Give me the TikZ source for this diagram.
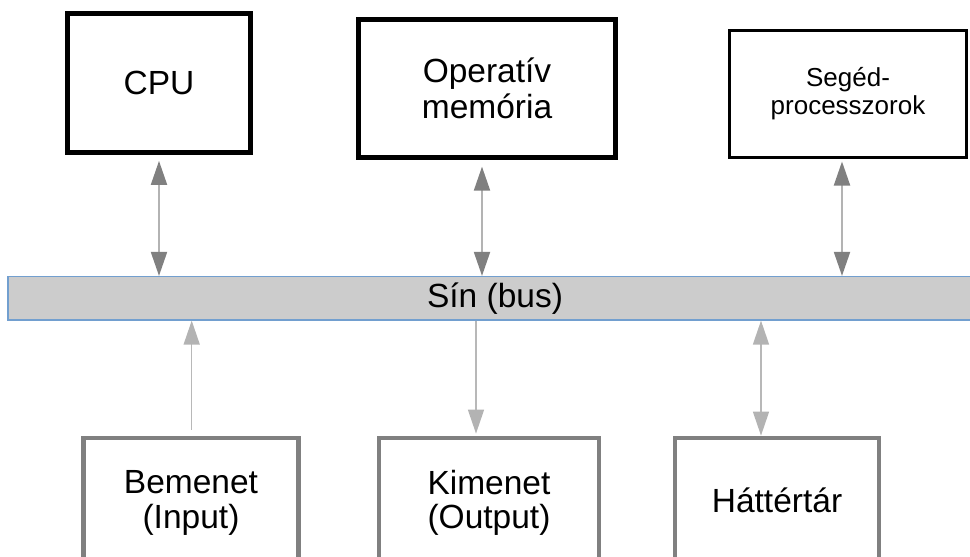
\documentclass[tikz,border=0pt]{standalone}
\usepackage{fontspec}
\setmainfont{Liberation Sans}
\usetikzlibrary{arrows.meta}
\definecolor{headgray}{HTML}{808080}
\definecolor{linegray}{HTML}{B3B3B3}
\definecolor{lightgray2}{HTML}{B8B8B8}
\definecolor{busfill}{HTML}{CCCCCC}
\definecolor{busline}{HTML}{729FCF}
\tikzset{
  topbox/.style={draw=black, line width=4.8pt, rectangle, inner sep=0pt, align=center,
    font=\fontsize{33.5}{36.5}\selectfont},
  botbox/.style={draw=headgray, line width=4.8pt, rectangle, inner sep=0pt, align=center,
    font=\fontsize{33.5}{34.5}\selectfont},
  busbox/.style={draw=busline, fill=busfill, line width=1.2pt, rectangle, inner sep=0pt,
    font=\fontsize{33.5}{36}\selectfont},
  toparr/.style={draw=linegray, line width=2pt,
    arrows={Triangle[length=24pt,width=16pt,color=headgray]-Triangle[length=24pt,width=16pt,color=headgray]}},
  botarr/.style={draw=lightgray2, line width=1.5pt},
}
\begin{document}
\begin{tikzpicture}[x=1pt,y=-1pt]
\useasboundingbox (0,0) rectangle (970,557);
\clip (0,0) rectangle (970,557);
% top boxes
\node[topbox, minimum width=183pt, minimum height=139pt] (cpu) at (159,83) {CPU};
\node[topbox, minimum width=257.7pt, minimum height=138.5pt] (mem) at (487,88.5) {Operatív\\memória};
\node[topbox, line width=3pt, minimum width=237.7pt, minimum height=127pt,
      font=\fontsize{26}{27.5}\selectfont] (seg) at (848,93.5) {Segéd-\\processzorok};
% bus
\node[busbox, minimum width=974pt, minimum height=43.5pt] (bus) at (495,298.25) {Sín (bus)};
% bottom boxes
\node[botbox, minimum width=214.3pt, minimum height=130pt] (in) at (191,503) {Bemenet\\(Input)};
\node[botbox, minimum width=220pt, minimum height=130pt] (out) at (489,503) {Kimenet\\(Output)};
\node[botbox, minimum width=204pt, minimum height=124pt] (hdd) at (777,500) {Háttértár};
% top connectors
\draw[toparr] ([yshift=-6pt]cpu.south) -- (cpu.south |- bus.north);
\draw[toparr] ([xshift=-5pt,yshift=-6.5pt]mem.south) -- ([xshift=-5pt]mem.south |- bus.north);
\draw[toparr] ([xshift=-6pt,yshift=-3pt]seg.south) -- ([xshift=-6pt]seg.south |- bus.north);
% bottom connectors
\coordinate (inx) at ([xshift=0.7pt]in.north);
\draw[botarr, arrows={-Triangle[length=24pt,width=16pt,color=linegray]}]
  ([yshift=6pt]inx) -- (inx |- bus.south);
\coordinate (outx) at ([xshift=-13pt]out.north);
\draw[botarr, arrows={-Triangle[length=24pt,width=16pt,color=linegray]}]
  (outx |- bus.south) -- ([yshift=2pt]outx);
\coordinate (hddx) at ([xshift=-16pt]hdd.north);
\draw[botarr, arrows={Triangle[length=24pt,width=16pt,color=linegray]-Triangle[length=24pt,width=16pt,color=linegray]}]
  (hddx |- bus.south) -- ([yshift=0pt]hddx);
\end{tikzpicture}
\end{document}
